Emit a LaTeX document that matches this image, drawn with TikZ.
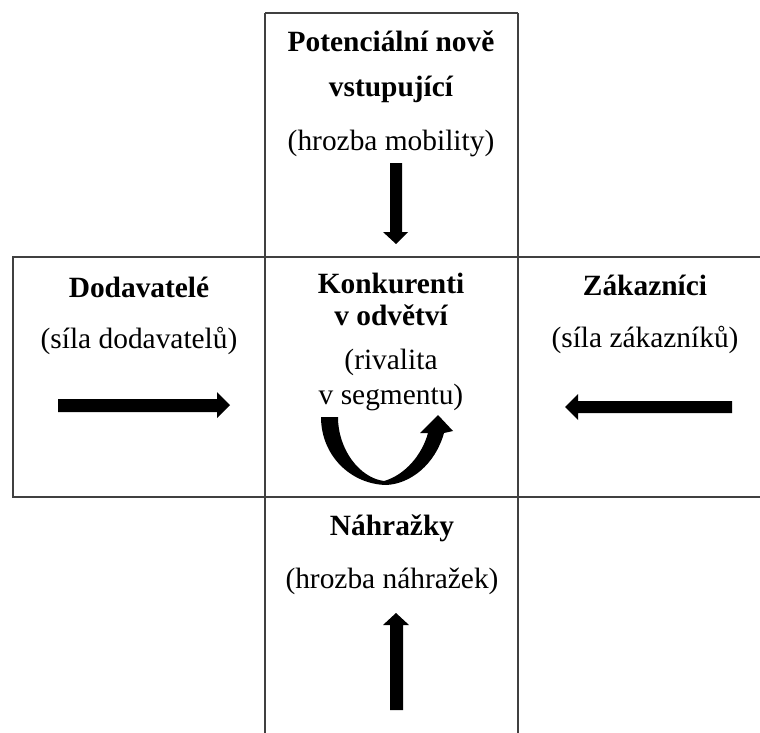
\documentclass[tikz,border=0pt]{standalone}
\usepackage{fontspec}
\setmainfont{Liberation Serif}
\begin{document}
\begin{tikzpicture}[x=0.5pt,y=-0.5pt,
  gridline/.style={draw=black!75,line width=0.65pt},
  bt/.style={font=\fontsize{14.7}{17}\selectfont\bfseries, anchor=base, inner sep=0pt},
  rt/.style={font=\fontsize{14.7}{17}\selectfont, anchor=base, inner sep=0pt},
  blk/.style={fill=black, draw=none}]
\useasboundingbox (0,0) rectangle (760,733);
% grid
\draw[gridline] (760,257) -- (13,257) -- (13,497) -- (760,497);
\draw[gridline] (265,13) -- (518,13);
\draw[gridline] (265,13) -- (265,733);
\draw[gridline] (518,13) -- (518,733);
% top box
\node[bt] (t1) at (391,52) {Potenciální nově};
\node[bt] (t2) at (391,97) {vstupující};
\node[rt] (t3) at (391,150) {(hrozba mobility)};
% left box
\node[bt] (l1) at (139,297) {Dodavatelé};
\node[rt] (l2) at (139,348) {(síla dodavatelů)};
% center box
\node[bt] (c1) at (391,293) {Konkurenti};
\node[bt] (c2) at (391,325) {v odvětví};
\node[rt] (c3) at (391,369) {(rivalita};
\node[rt] (c4) at (391,404) {v segmentu)};
% right box
\node[bt] (r1) at (645,295) {Zákazníci};
\node[rt] (r2) at (645,347) {(síla zákazníků)};
% bottom box
\node[bt] (b1) at (392,535) {Náhražky};
\node[rt] (b2) at (392,588) {(hrozba náhražek)};
% block arrows
\fill[blk] (390,163) -- (402,163) -- (402,232) -- (408,232) -- (396,244) -- (383,232) -- (390,232) -- cycle;
\fill[blk] (58,399) -- (217,399) -- (217,392) -- (230,405) -- (217,418) -- (217,412) -- (58,412) -- cycle;
\fill[blk] (732,401) -- (578,401) -- (578,394) -- (565,407) -- (578,420) -- (578,413) -- (732,413) -- cycle;
\fill[blk] (390,710) -- (390,625) -- (383,625) -- (396,613) -- (409,625) -- (403,625) -- (403,710) -- cycle;
% curved arrow
\fill[blk] (321,417) -- (338,417)
  .. controls (338,450) and (360,478) .. (384,481)
  .. controls (405,475) and (422,455) .. (428,433)
  -- (420,433) -- (438,415) -- (453,431) -- (444,433)
  .. controls (435,465) and (410,484) .. (386,485)
  .. controls (350,484) and (321,455) .. (321,417) -- cycle;
\end{tikzpicture}
\end{document}
